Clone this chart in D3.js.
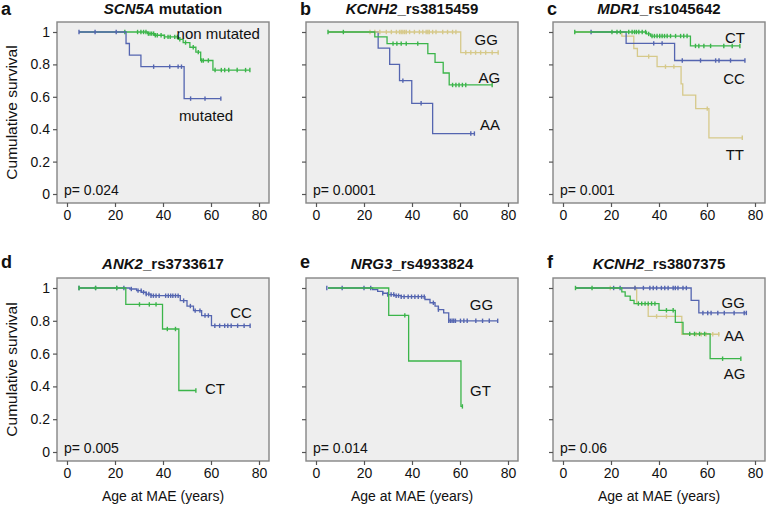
<!DOCTYPE html>
<html><head><meta charset="utf-8">
<script src="https://cdn.jsdelivr.net/npm/d3@7"></script>
<style>body{margin:0;background:#fff;} text{font-family:"Liberation Sans",Arial,sans-serif;fill:#111;}</style>
</head><body><svg id="c" width="769" height="507"></svg>
<script>
// ---------- DATA ----------
const xTicks = [0, 20, 40, 60, 80];
const yTicks = [0, 0.2, 0.4, 0.6, 0.8, 1];
const yTickLabels = ["0", "0.2", "0.4", "0.6", "0.8", "1"];
const panelLetters = ["a", "b", "c", "d", "e", "f"];
const panelGenes = ["SCN5A", "KCNH2", "MDR1", "ANK2", "NRG3", "KCNH2"];
const panelSuffix = [" mutation", "_rs3815459", "_rs1045642", "_rs3733617", "_rs4933824", "_rs3807375"];
const pValues = ["p= 0.024", "p= 0.0001", "p= 0.001", "p= 0.005", "p= 0.014", "p= 0.06"];

// panel a
const aNonMutTime = [5, 33.6, 36.4, 40.6, 46.3, 48.4, 51.2, 53.7, 55.7, 60.8, 76.2];
const aNonMutSurv = [1, 0.99, 0.98, 0.97, 0.955, 0.935, 0.906, 0.876, 0.824, 0.765, 0.765];
const aNonMutCens = [24.1, 29.4, 30.8, 31.9, 32.9, 33.9, 34.6, 35.3, 36.1, 36.8, 37.6, 39.2, 40.6, 42.1, 43.0, 44.9, 46.0, 47.0, 49.4, 52.6, 54.7, 56.1, 56.8, 58.9, 61.7, 64.3, 65.7, 67.4, 70.9, 74.4, 76.2];
const aMutTime = [5, 24.6, 26, 30.8, 48.8, 64.1];
const aMutSurv = [1, 0.929, 0.857, 0.786, 0.589, 0.589];
const aMutCens = [5, 11.7, 20.5, 36.1, 42.8, 46.3, 47.7, 51.5, 57.5, 64.1];
// panel b
const bAATime = [5, 25.9, 30.7, 34.8, 39.9, 48.6, 66];
const bAASurv = [1, 0.9, 0.8, 0.7, 0.56, 0.373, 0.373];
const bAACens = [36.2, 43.8, 64.5, 66];
const bGGTime = [5, 60.3, 75.9];
const bGGSurv = [1, 0.873, 0.873];
const bGGCens = [22.5, 24.5, 26.6, 29.3, 31.4, 33.5, 34.8, 35.5, 36.2, 36.9, 37.6, 39, 41, 43.1, 44.5, 45.9, 46.6, 47.2, 48.6, 50, 52.8, 54.8, 56.9, 58.3, 62.4, 64.5, 66.5, 68.6, 70.7, 73.4, 75.9];
const bAGTime = [5, 24.5, 29.6, 46.6, 49.6, 53, 55.5, 73.4];
const bAGSurv = [1, 0.97, 0.928, 0.867, 0.813, 0.747, 0.673, 0.673];
const bAGCens = [5, 11.4, 32.1, 33.7, 35.5, 37.6, 42.4, 56.9, 58.3, 59.6, 61, 62.4, 73.4];
// panel c
const cTTTime = [5, 24.5, 29.5, 31, 39.2, 49.2, 49.9, 55.3, 60.8, 74.7];
const cTTSurv = [1, 0.975, 0.898, 0.849, 0.786, 0.68, 0.61, 0.527, 0.347, 0.347];
const cTTCens = [35.7, 42.7, 46.2, 60.1, 74.7];
const cCCTime = [11.7, 26.3, 46.5, 75.8];
const cCCSurv = [1, 0.93, 0.824, 0.824];
const cCCCens = [11.7, 37.8, 41.3, 49.7, 57.3, 63.6, 65, 69.8, 75.8];
const cCTTime = [5, 34.8, 36.5, 53.1, 73.7];
const cCTSurv = [1, 0.988, 0.975, 0.914, 0.914];
const cCTCens = [4.9, 20.4, 22.5, 23.9, 27.4, 28.8, 29.8, 30.6, 31.6, 33, 34.4, 35.7, 37.1, 38.1, 39.2, 40.3, 41.3, 42.3, 43.4, 44.8, 46.9, 49, 50.3, 51.7, 55.2, 56.6, 58.7, 61.5, 67, 70.5, 73.7];
// panel d
const dCCTime = [5, 26.2, 29, 31, 33, 35, 47.2, 50, 52.7, 56.1, 60.2, 76.3];
const dCCSurv = [1, 0.994, 0.984, 0.974, 0.963, 0.953, 0.923, 0.89, 0.862, 0.832, 0.77, 0.77];
const dCCCens = [5, 11.9, 20.7, 23.7, 26.8, 29.6, 30.9, 31.9, 33, 34.1, 35, 36, 37.1, 38.4, 41.1, 42.2, 43.2, 44.1, 45.2, 46.3, 48.6, 51.4, 53.4, 55.4, 57.5, 58.9, 61.6, 63.6, 65.7, 67, 68.4, 71.1, 73.8, 76.3];
const dCTTime = [5, 24.5, 39.8, 46.6, 53.7];
const dCTSurv = [1, 0.9, 0.75, 0.375, 0.375];
const dCTCens = [5, 11.9, 20.7, 30.2, 34.3, 37.1, 41.8, 45.2, 53.7];
// panel e
const eGGTime = [5, 23.6, 25.7, 27.8, 29.8, 32.7, 35.5, 45.4, 47.5, 49.6, 51, 53.2, 55.3, 75.7];
const eGGSurv = [1, 0.99, 0.98, 0.968, 0.96, 0.953, 0.947, 0.93, 0.91, 0.89, 0.868, 0.848, 0.8, 0.8];
const eGGCens = [4.5, 10.9, 20, 22.8, 27.8, 29.9, 31.3, 32.4, 33.4, 34.4, 35.5, 36.7, 38.4, 39.8, 41.2, 42.6, 44, 45.1, 48.9, 51, 55.3, 56, 56.7, 57.4, 58.1, 60.2, 61.6, 63, 66.6, 69.4, 72.2, 75.7];
const eGTTime = [5, 30.3, 38.6, 60.4, 61];
const eGTSurv = [1, 0.833, 0.555, 0.278, 0.278];
const eGTCens = [37, 61];
// panel f
const fAATime = [5, 30.7, 35.5, 49.5, 65.2];
const fAASurv = [1, 0.905, 0.827, 0.718, 0.718];
const fAACens = [19.7, 30, 39, 43.1, 55.5, 57.6, 59.6, 62.4, 64.9];
const fGGTime = [5, 53.4, 56.6, 76.4];
const fGGSurv = [1, 0.925, 0.848, 0.848];
const fGGCens = [21.1, 23.8, 30, 33.5, 36.2, 37.6, 39, 41, 42.4, 43.8, 45.9, 46.8, 47.9, 50, 51.4, 58.3, 60.3, 61.7, 64.5, 67.2, 71.3, 75.5, 76.4];
const fAGTime = [5, 24.5, 25.9, 28, 29.6, 40, 46.8, 50, 61.3, 74.1];
const fAGSurv = [1, 0.976, 0.95, 0.925, 0.905, 0.864, 0.79, 0.72, 0.569, 0.569];
const fAGCens = [5.2, 12.1, 31.4, 32.8, 34.2, 35.5, 36.9, 38.3, 43.1, 45.9, 52.8, 54.8, 56.9, 59, 66.5, 74.1];

// ---------- STYLE / LAYOUT ----------
const COL = {blue: "#5465b0", green: "#3bb54a", tan: "#d6c98a"};
const colX0 = [67, 316, 563];           // pixel of x=0 per column
const rowY = [[194, 32], [452, 288]];    // pixel of y=0, y=1 per row
const xSpan = 192;

const panels = [
  {series: [[aNonMutTime, aNonMutSurv, aNonMutCens, "green"], [aMutTime, aMutSurv, aMutCens, "blue"]],
   labels: [["non mutated", 80.4, 0.99], ["mutated", 69.2, 0.48]]},
  {series: [[bAATime, bAASurv, bAACens, "blue"], [bGGTime, bGGSurv, bGGCens, "tan"], [bAGTime, bAGSurv, bAGCens, "green"]],
   labels: [["GG", 75.8, 0.95], ["AG", 76.7, 0.72], ["AA", 76.7, 0.43]]},
  {series: [[cTTTime, cTTSurv, cTTCens, "tan"], [cCCTime, cCCSurv, cCCCens, "blue"], [cCTTime, cCTSurv, cCTCens, "green"]],
   labels: [["CT", 75.8, 0.963], ["CC", 75.8, 0.71], ["TT", 75.4, 0.245]]},
  {series: [[dCCTime, dCCSurv, dCCCens, "blue"], [dCTTime, dCTSurv, dCTCens, "green"]],
   labels: [["CC", 77, 0.847], ["CT", 65.8, 0.387]]},
  {series: [[eGGTime, eGGSurv, eGGCens, "blue"], [eGTTime, eGTSurv, eGTCens, "green"]],
   labels: [["GG", 73.8, 0.9], ["GT", 72.9, 0.374]]},
  {series: [[fAATime, fAASurv, fAACens, "tan"], [fGGTime, fGGSurv, fGGCens, "blue"], [fAGTime, fAGSurv, fAGCens, "green"]],
   labels: [["GG", 75.8, 0.908], ["AA", 75.4, 0.71], ["AG", 76, 0.48]]}
];

const svg = d3.select("#c");

panels.forEach((p, i) => {
  const col = i % 3, row = Math.floor(i / 3);
  const x = d3.scaleLinear().domain([0, 80]).range([colX0[col], colX0[col] + xSpan]);
  const y = d3.scaleLinear().domain([0, 1]).range(rowY[row]);
  const left = x(0) - 10, right = x(80) + 10, top = y(1) - 10, bottom = y(0) + 9;
  const g = svg.append("g");

  g.append("rect").attr("x", left).attr("y", top).attr("width", right - left).attr("height", bottom - top)
    .attr("fill", "#eeeeee").attr("stroke", "#858585").attr("stroke-width", 1.4);

  // axes
  const yAx = d3.axisLeft(y).tickValues(yTicks).tickSize(4).tickPadding(3)
    .tickFormat((d, k) => col === 0 ? yTickLabels[k] : "");
  const ya = g.append("g").attr("transform", `translate(${left},0)`).call(yAx);
  const xAx = d3.axisBottom(x).tickValues(xTicks).tickSize(4).tickPadding(3).tickFormat(d3.format("d"));
  const xa = g.append("g").attr("transform", `translate(0,${bottom})`).call(xAx);
  [ya, xa].forEach(a => {
    a.select(".domain").remove();
    a.selectAll(".tick line").attr("stroke", "#555").attr("stroke-width", 1.2);
    a.selectAll("text").attr("font-size", 14).attr("fill", "#111")
      .style("font-family", '"Liberation Sans", Arial, sans-serif');
  });

  // curves
  const line = d3.line().x(d => x(d[0])).y(d => y(d[1])).curve(d3.curveStepAfter);
  p.series.forEach(([t, s, c, colr]) => {
    const pts = t.map((tt, k) => [tt, s[k]]);
    g.append("path").attr("d", line(pts)).attr("fill", "none")
      .attr("stroke", COL[colr]).attr("stroke-width", 1.3);
    const survAt = tt => { let v = s[0]; t.forEach((ti, k) => { if (ti <= tt) v = s[k]; }); return v; };
    g.selectAll(null).data(c).enter().append("line")
      .attr("x1", d => x(d)).attr("x2", d => x(d))
      .attr("y1", d => y(survAt(d)) - 2.2).attr("y2", d => y(survAt(d)) + 2.2)
      .attr("stroke", COL[colr]).attr("stroke-width", 1.4);
  });

  // group labels
  p.labels.forEach(([txt, lx, ly]) => {
    g.append("text").attr("x", x(lx)).attr("y", y(ly)).attr("dy", "0.35em")
      .attr("text-anchor", "end").attr("font-size", 15).text(txt);
  });

  // p-value
  g.append("text").attr("x", left + 7).attr("y", y(0) + 1).attr("font-size", 14).text(pValues[i]);

  // title
  const tb = row === 0 ? 14 : 269;
  const t = g.append("text").attr("x", (left + right) / 2).attr("y", tb).attr("text-anchor", "middle")
    .attr("font-size", 15).attr("font-weight", "bold");
  t.append("tspan").attr("font-style", "italic").text(panelGenes[i]);
  t.append("tspan").text(panelSuffix[i]);

  // panel letter
  const lxPos = [1, 300, 547][col];
  g.append("text").attr("x", lxPos).attr("y", row === 0 ? 15 : 268).attr("font-size", 18)
    .attr("font-weight", "bold").text(panelLetters[i]);

  // axis titles
  if (col === 0) {
    g.append("text").attr("transform", `translate(12,${(top + bottom) / 2}) rotate(-90)`)
      .attr("dy", "0.35em").attr("text-anchor", "middle").attr("font-size", 15.5).text("Cumulative survival");
  }
  if (row === 1) {
    g.append("text").attr("x", (left + right) / 2).attr("y", 501).attr("text-anchor", "middle")
      .attr("font-size", 14).text("Age at MAE (years)");
  }
});
</script></body></html>
